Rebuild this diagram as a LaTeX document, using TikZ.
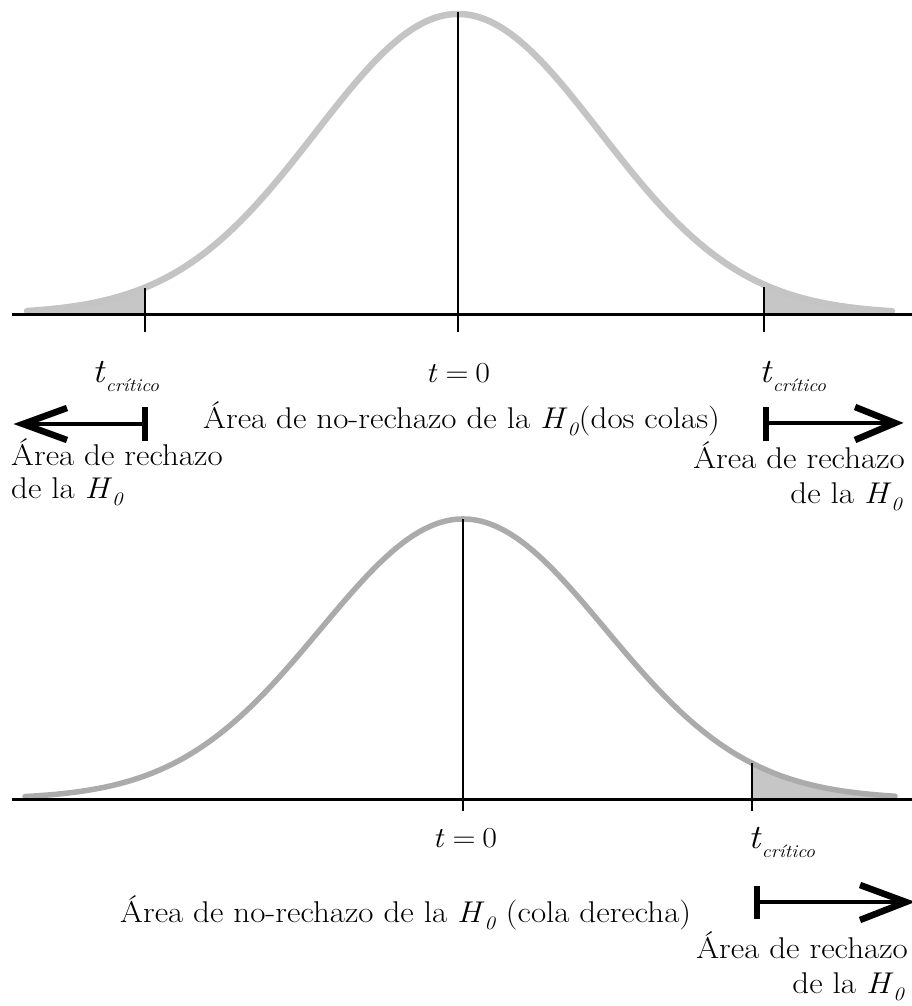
\documentclass[tikz,border=0pt]{standalone}
\usepackage{fontspec}
\setmainfont{Latin Modern Roman}[FakeStretch=1.1]
\definecolor{curvelight}{HTML}{C4C4C4}
\definecolor{curvedark}{HTML}{ABABAB}
\definecolor{tailgray}{HTML}{C6C6C6}
\newcommand{\tcrit}{{\fontsize{34}{34}\selectfont\textit{t}}\raisebox{-9pt}{\fontsize{18}{18}\selectfont\textit{crítico}}}
\newcommand{\Hnull}{\textit{H}\raisebox{-7pt}{\fontsize{19}{19}\selectfont\textit{0}}}
\newcommand{\tzero}{\textit{t}\hspace{8pt}=\hspace{7pt}0}
\begin{document}
\begin{tikzpicture}[x=1pt,y=-1pt,
  axisline/.style={line width=3pt,line cap=butt},
  tickline/.style={line width=2.2pt},
  midline/.style={line width=1.8pt},
  curvetop/.style={draw=curvelight,line width=6.5pt,line cap=round},
  curvebot/.style={draw=curvedark,line width=5.5pt,line cap=round},
  tailfill/.style={fill=tailgray},
  barline/.style={line width=6pt},
  shaftline/.style={line width=4pt},
  headline/.style={line width=6.5pt,line join=miter,miter limit=20},
  lbl/.style={inner sep=0pt,font=\fontsize{30}{33}\selectfont},
  tlbl/.style={inner sep=0pt,font=\fontsize{29}{33}\selectfont}]
\useasboundingbox (0,0) rectangle (912,1006);
\fill[white] (0,0) rectangle (912,1006);
% ---------- top panel ----------
\fill[tailfill] (27,314) -- plot[domain=27:145,samples=60] (\x,{314-300*exp(-((\x-458)/142)^2/2)}) -- (145,314) -- cycle;
\fill[tailfill] (764,314) -- plot[domain=764:892,samples=60] (\x,{314-300*exp(-((\x-458)/142)^2/2)}) -- (892,314) -- cycle;
\draw[curvetop] plot[domain=27:892,samples=220] (\x,{314-300*exp(-((\x-458)/142)^2/2)});
\coordinate (ta0) at (12,314);
\coordinate (ta1) at (912,314);
\draw[axisline] (ta0) -- (ta1);
\coordinate (tl0) at (145,288); \coordinate (tl1) at (145,332);
\coordinate (tr0) at (764,287); \coordinate (tr1) at (764,332);
\coordinate (tm0) at (458,12);  \coordinate (tm1) at (458,332);
\draw[tickline] (tl0) -- (tl1);
\draw[tickline] (tr0) -- (tr1);
\draw[midline] (tm0) -- (tm1);
\node[lbl,anchor=base west] (tcl) at (92,382) {\tcrit};
\node[tlbl,anchor=base] (tz) at (458,382) {\tzero};
\node[lbl,anchor=base west] (tcr) at (759,382) {\tcrit};
\node[lbl,anchor=base west] (tnr) at (203,428) {Área de no-rechazo de la \Hnull(dos colas)};
% left arrow
\coordinate (lb0) at (145,407); \coordinate (lb1) at (145,441);
\coordinate (ls0) at (145,424); \coordinate (ls1) at (26,424);
\coordinate (lh0) at (67,408); \coordinate (lh1) at (23,424); \coordinate (lh2) at (67,440);
\draw[barline] (lb0) -- (lb1);
\draw[shaftline] (ls0) -- (ls1);
\draw[headline] (lh0) -- (lh1) -- (lh2);
\node[lbl,anchor=base west] (lr1) at (11,465) {Área de rechazo};
\node[lbl,anchor=base west] (lr2) at (11,498) {de la \Hnull};
% right arrow (top)
\coordinate (rb0) at (766,407); \coordinate (rb1) at (766,441);
\coordinate (rs0) at (766,423); \coordinate (rs1) at (890,423);
\coordinate (rh0) at (855,407); \coordinate (rh1) at (895,423); \coordinate (rh2) at (855,440);
\draw[barline] (rb0) -- (rb1);
\draw[shaftline] (rs0) -- (rs1);
\draw[headline] (rh0) -- (rh1) -- (rh2);
\node[lbl,anchor=base east] (rr1) at (905,468) {Área de rechazo};
\node[lbl,anchor=base east] (rr2) at (903,503) {de la \Hnull};
% ---------- bottom panel ----------
\fill[tailfill] (752,799) -- plot[domain=752:895,samples=60] (\x,{799-280*exp(-((\x-463)/142.5)^2/2)}) -- (895,799) -- cycle;
\draw[curvebot] plot[domain=25:895,samples=220] (\x,{799-280*exp(-((\x-463)/142.5)^2/2)});
\coordinate (ba0) at (12,799);
\coordinate (ba1) at (912,799);
\draw[axisline] (ba0) -- (ba1);
\coordinate (bm0) at (463,519); \coordinate (bm1) at (463,811);
\coordinate (br0) at (752,763); \coordinate (br1) at (752,811);
\draw[midline] (bm0) -- (bm1);
\draw[tickline] (br0) -- (br1);
\node[tlbl,anchor=base] (bz) at (465,847) {\tzero};
\node[lbl,anchor=base west] (bcr) at (748,848) {\tcrit};
\node[lbl,anchor=base west] (bnr) at (120,922) {Área de no-rechazo de la \Hnull\ (cola derecha)};
\coordinate (bb0) at (757,886); \coordinate (bb1) at (757,919);
\coordinate (bs0) at (757,902); \coordinate (bs1) at (900,902);
\coordinate (bh0) at (860,885); \coordinate (bh1) at (906,902); \coordinate (bh2) at (860,920);
\draw[barline] (bb0) -- (bb1);
\draw[shaftline] (bs0) -- (bs1);
\draw[headline] (bh0) -- (bh1) -- (bh2);
\node[lbl,anchor=base east] (br1t) at (908,958) {Área de rechazo};
\node[lbl,anchor=base east] (br2t) at (905,993) {de la \Hnull};
\end{tikzpicture}
\end{document}
